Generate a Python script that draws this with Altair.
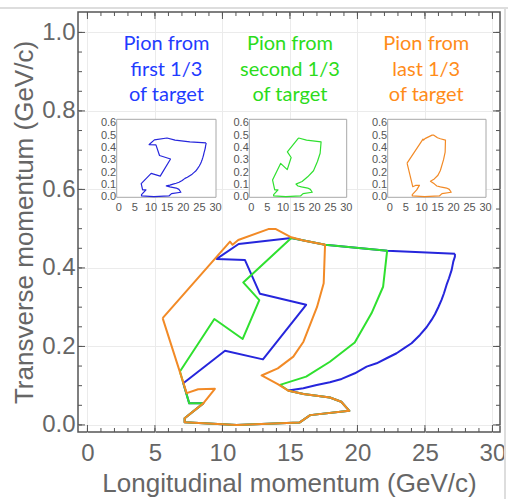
import altair as alt
import pandas as pd

# ---------------- data ----------------
blue_x = [27.22, 22.2, 17.6, 15.1, 11.2, 9.57, 11.67, 12.78, 16.2, 13.0, 10.19, 7.1,
          7.54, 8.58, 7.2, 7.2, 11.05, 15.7, 16.5, 19.4, 18.8, 17.96, 16.0, 14.88,
          15.99, 16.98, 17.96, 18.83, 19.81, 20.68, 21.42, 22.16, 22.90, 23.52, 24.01,
          24.63, 25.12, 25.49, 25.74, 25.99, 26.23, 26.41, 26.60, 26.78, 26.98, 27.10,
          27.22, 27.22]
blue_y = [0.436, 0.444, 0.459, 0.476, 0.461, 0.423, 0.420, 0.334, 0.306, 0.167, 0.189, 0.106,
          0.055, 0.055, 0.017, 0.007, 0.0, 0.006, 0.025, 0.036, 0.059, 0.070, 0.079, 0.0875,
          0.0934, 0.1019, 0.1087, 0.1172, 0.1316, 0.1486, 0.1571, 0.1699, 0.1826, 0.1970, 0.2081,
          0.2293, 0.2488, 0.2675, 0.2820, 0.2998, 0.3185, 0.3355, 0.3567, 0.3737, 0.3949, 0.4161,
          0.4289, 0.436]

green_x = [15.1, 11.54, 12.73, 11.5, 9.4, 6.85, 7.54, 8.58, 7.2, 7.2, 11.05, 15.7, 16.5,
           19.4, 18.8, 17.96, 16.0, 14.9, 14.26, 16.2, 17.96, 19.8, 21.05, 21.9, 22.2, 17.6, 15.1]
green_y = [0.476, 0.363, 0.318, 0.219, 0.27, 0.136, 0.055, 0.055, 0.017, 0.007, 0.0, 0.006, 0.025,
           0.036, 0.059, 0.070, 0.079, 0.087, 0.102, 0.123, 0.161, 0.21, 0.285, 0.352, 0.444, 0.459, 0.476]

orange_x = [5.57, 10.56, 10.75, 11.17, 13.4, 13.96, 15.1, 16.0, 17.6, 17.5, 17.0, 16.0, 15.25,
            14.1, 12.9, 14.1, 14.9, 16.0, 17.96, 18.8, 19.4, 16.5, 15.7, 11.05, 7.2, 7.2, 8.58,
            9.44, 8.2, 7.35, 5.57]
orange_y = [0.272, 0.467, 0.459, 0.471, 0.499, 0.499, 0.478, 0.47, 0.459, 0.361, 0.30, 0.212, 0.174,
            0.144, 0.126, 0.104, 0.087, 0.079, 0.070, 0.059, 0.036, 0.025, 0.006, 0.0, 0.007, 0.017, 0.055,
            0.092, 0.091, 0.081, 0.272]

x_major = [0, 5, 10, 15, 20, 25, 30]
x_minor = list(range(0, 31))
y_major = [0.0, 0.2, 0.4, 0.6, 0.8, 1.0]
y_minor = [0.0, 0.05, 0.1, 0.15, 0.2, 0.25, 0.3, 0.35, 0.4, 0.45, 0.5, 0.55, 0.6, 0.65,
           0.7, 0.75, 0.8, 0.85, 0.9, 0.95, 1.0]

inset_x_ticks = [0, 5, 10, 15, 20, 25, 30]
inset_y_ticks = [0.0, 0.1, 0.2, 0.3, 0.4, 0.5, 0.6]

titles_blue = ["Pion from", "first 1/3", "of target"]
titles_green = ["Pion from", "second 1/3", "of target"]
titles_orange = ["Pion from", "last 1/3", "of target"]
title_x = [5.85, 15.0, 25.1]          # in main x units
title_y = [0.954, 0.888, 0.824]       # baselines in main y units

# ---------------- styles ----------------
BLUE, GREEN, ORANGE = "#2626dc", "#2fe02f", "#f28a26"
TBLUE, TGREEN, TORANGE = "#1f3cff", "#2bdc1a", "#ff8c1a"
W, H = 422, 420
GRAY = "#666666"
FONT = "Liberation Sans"

mx = alt.Scale(domain=[-0.7, 30.56], nice=False, zero=False)
my = alt.Scale(domain=[-0.018, 1.052], nice=False, zero=False)

ax_x = alt.Axis(orient="bottom", values=x_major, title="Longitudinal momentum (GeV/c)",
                grid=True, gridColor="#ebebeb", ticks=False, domain=False,
                labelFontSize=24, labelColor=GRAY, labelPadding=9, labelFlush=False,
                labelOverlap=False, labelFont=FONT,
                titleFontSize=26, titleColor=GRAY, titleFontWeight="normal", titleFont=FONT,
                titleBaseline="alphabetic", titleY=59, titleX=W / 2, titleAlign="center")
ax_y = alt.Axis(orient="left", values=y_major, format=".1f", title="Transverse momentum (GeV/c)",
                grid=True, gridColor="#ebebeb", ticks=False, domain=False,
                labelFontSize=24, labelColor=GRAY, labelPadding=3, labelFlush=False,
                labelOverlap=False, labelFont=FONT,
                titleFontSize=26, titleColor=GRAY, titleFontWeight="normal", titleFont=FONT,
                titleBaseline="alphabetic", titleX=-46, titleY=H / 2, titleAngle=270,
                titleAlign="center")


def poly(xs, ys, color, sx, sy, axx, axy, width):
    df = pd.DataFrame({"x": xs, "y": ys, "i": range(len(xs))})
    return alt.Chart(df).mark_line(color=color, strokeWidth=width, strokeJoin="round").encode(
        x=alt.X("x:Q", scale=sx, axis=axx),
        y=alt.Y("y:Q", scale=sy, axis=axy),
        order="i:Q")


def xtick_layer(vals, length, top):
    df = pd.DataFrame({"x": vals})
    y0, y1 = (0, length) if top else (H, H - length)
    return alt.Chart(df).mark_rule(color="#555555", strokeWidth=1).encode(
        x=alt.X("x:Q", scale=mx, axis=ax_x), y=alt.value(y0), y2=alt.value(y1))


def ytick_layer(vals, length, right):
    df = pd.DataFrame({"y": vals})
    x0, x1 = (W, W - length) if right else (0, length)
    return alt.Chart(df).mark_rule(color="#555555", strokeWidth=1).encode(
        y=alt.Y("y:Q", scale=my, axis=ax_y), x=alt.value(x0), x2=alt.value(x1))


def title_layer(lines, xpos, color):
    df = pd.DataFrame({"t": lines, "x": [xpos] * len(lines), "y": title_y})
    return alt.Chart(df).mark_text(font="Lato", fontSize=20, color=color, align="center",
                                   baseline="alphabetic").encode(
        x=alt.X("x:Q", scale=mx, axis=ax_x), y=alt.Y("y:Q", scale=my, axis=ax_y), text="t:N")


border = alt.Chart(pd.DataFrame({"a": [0]})).mark_rule(color="#dddddd", strokeWidth=2).encode(
    x=alt.value(-78), x2=alt.value(430), y=alt.value(-4))
border_r = alt.Chart(pd.DataFrame({"a": [0]})).mark_rule(color="#dddddd", strokeWidth=2).encode(
    x=alt.value(427), y=alt.value(-4), y2=alt.value(490))

main = alt.layer(
    poly(blue_x, blue_y, BLUE, mx, my, ax_x, ax_y, 2),
    poly(green_x, green_y, GREEN, mx, my, ax_x, ax_y, 2),
    poly(orange_x, orange_y, ORANGE, mx, my, ax_x, ax_y, 2),
    xtick_layer(x_minor, 4, False), xtick_layer(x_major, 7, False),
    xtick_layer(x_minor, 4, True), xtick_layer(x_major, 7, True),
    ytick_layer(y_minor, 4, False), ytick_layer(y_major, 7, False),
    ytick_layer(y_minor, 4, True), ytick_layer(y_major, 7, True),
    title_layer(titles_blue, title_x[0], TBLUE),
    title_layer(titles_green, title_x[1], TGREEN),
    title_layer(titles_orange, title_x[2], TORANGE),
    border, border_r,
)

INSET_BOTTOM, INSET_TOP = 185.3, 107.3


def inset(xs, ys, color, rng_x):
    sx = alt.Scale(domain=[-0.5, 30.3], range=rng_x, nice=False, zero=False)
    sy = alt.Scale(domain=[-0.005, 0.6276], range=[INSET_BOTTOM, INSET_TOP], nice=False, zero=False)
    axx = alt.Axis(orient="bottom", offset=-(H - INSET_BOTTOM), values=inset_x_ticks, grid=False,
                   ticks=False, domain=False, labelFontSize=11, labelColor="#555555",
                   labelPadding=4, labelFlush=False, labelOverlap=False, labelFont=FONT, title=None)
    axy = alt.Axis(orient="left", offset=-rng_x[0], values=inset_y_ticks, format=".1f", grid=False,
                   ticks=False, domain=False, labelFontSize=11, labelColor="#555555",
                   labelPadding=1, labelFlush=False, labelOverlap=False, labelFont=FONT, title=None)
    fr = pd.DataFrame({"x0": [-0.5], "x1": [30.3], "y0": [-0.005], "y1": [0.6276]})
    frame = alt.Chart(fr).mark_rect(fill="white", stroke="#a8a8a8", strokeWidth=1).encode(
        x=alt.X("x0:Q", scale=sx, axis=axx), x2="x1:Q",
        y=alt.Y("y0:Q", scale=sy, axis=axy), y2="y1:Q")
    return alt.layer(frame, poly(xs, ys, color, sx, sy, axx, axy, 1.2))


chart = alt.layer(
    main,
    inset(blue_x, blue_y, BLUE, [38.7, 138.0]),
    inset(green_x, green_y, GREEN, [171.3, 268.7]),
    inset(orange_x, orange_y, ORANGE, [309.7, 408.0]),
).resolve_scale(x="independent", y="independent").properties(
    width=W, height=H,
    padding={"left": 78, "top": 12, "right": 8, "bottom": 67},
    autosize=alt.AutoSizeParams(type="none"),
).configure_view(stroke="#555555", strokeWidth=1.5)

chart.save("out.html", embed_options={"renderer": "svg", "actions": False})
